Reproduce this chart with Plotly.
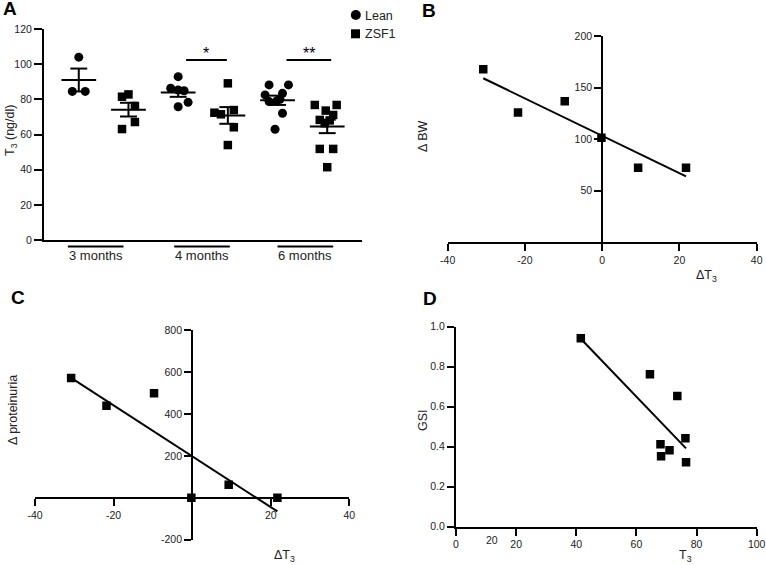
import numpy as np
import plotly.graph_objects as go

W, H = 766, 565

# ---- panel A: T3 by age group ----
lean_3mo = [104, 84.5, 84.5]
zsf1_3mo = [81.5, 82.8, 76.2, 67.1, 63.1]
lean_4mo = [92.9, 86.3, 85.3, 84.9, 75.8, 78.3]
zsf1_4mo = [89.1, 72.4, 71.5, 73.9, 64.1, 54.0]
lean_6mo = [88.2, 88.2, 82.5, 83.4, 78.7, 80.0, 79.0, 72.1, 63.0]
zsf1_6mo = [76.8, 76.8, 73.6, 71.1, 68.3, 66.4, 68.0, 51.8, 51.8, 41.4]
group_labels = ["3 months", "4 months", "6 months"]
sig_labels = ["*", "**"]
sig_level = 102.4

# ---- panel B / C: delta T3 vs delta BW / proteinuria ----
delta_t3 = [-30.8, -21.8, -9.7, -0.2, 9.3, 21.7]
delta_bw = [167.7, 125.8, 136.8, 101.3, 72.3, 72.3]
delta_prot = [571, 439, 498, 0, 62, 0]

# ---- panel D: T3 vs GSI ----
t3_d = [41.5, 64.5, 73.6, 76.3, 68.0, 71.0, 68.2, 76.5]
gsi_d = [0.942, 0.762, 0.653, 0.442, 0.412, 0.382, 0.352, 0.322]

# jitter (x offsets within a column) and column positions
jitter = [
    [0, -0.13, 0.13],
    [-0.13, 0, 0.13, 0.13, -0.13],
    [0, -0.15, 0, 0.12, 0, 0.2],
    [0, -0.27, -0.14, 0.12, 0.12, 0],
    [-0.17, 0.22, -0.25, 0.1, -0.17, 0.05, -0.02, 0.1, -0.05],
    [-0.25, 0.19, -0.03, 0.12, -0.15, -0.05, 0.05, -0.15, 0.12, 0],
]
group_label_x = [0.34, 2.48, 4.56]
sig_spans = [(2.16, 2.98), (4.18, 5.08)]

FONT = "Liberation Sans, Arial, sans-serif"
INK = "#222222"
TICK_SIZE = 10.5

fig = go.Figure()

series = [lean_3mo, zsf1_3mo, lean_4mo, zsf1_4mo, lean_6mo, zsf1_6mo]
for i, vals in enumerate(series):
    is_lean = i % 2 == 0
    xs = [i + o for o in jitter[i]]
    fig.add_trace(go.Scatter(
        x=xs, y=vals, mode="markers", xaxis="x", yaxis="y",
        marker=dict(symbol="circle" if is_lean else "square", size=9 if is_lean else 8.5, color="black"),
        name="Lean" if is_lean else "ZSF1", showlegend=False,
    ))
    m = np.mean(vals)
    sem = np.std(vals, ddof=1) / np.sqrt(len(vals))
    # mean bar, sem whisker, caps
    lx = [i - 0.35, i + 0.35, None, i, i, None, i - 0.17, i + 0.17, None, i - 0.17, i + 0.17]
    ly = [m, m, None, m - sem, m + sem, None, m + sem, m + sem, None, m - sem, m - sem]
    fig.add_trace(go.Scatter(x=lx, y=ly, mode="lines", xaxis="x", yaxis="y",
                             line=dict(color="black", width=2), showlegend=False, hoverinfo="skip"))


def px_x(p):
    return p / W


def px_y(p):
    return 1 - p / H


def label(text, x, y, size, ang=0, **kw):
    return dict(text=text, x=px_x(x), y=px_y(y), xref="paper", yref="paper",
                xanchor="center", yanchor="middle", showarrow=False, textangle=ang,
                font=dict(size=size, color=kw.pop("color", INK), family=FONT), **kw)


shapes = []
annotations = []
for gx, lab in zip(group_label_x, group_labels):
    shapes.append(dict(type="line", xref="x", yref="paper", x0=gx - 0.56, x1=gx + 0.56,
                       y0=px_y(246.5), y1=px_y(246.5), line=dict(color="black", width=2)))
    annotations.append(dict(text=lab, x=gx, xref="x", y=px_y(255.5), yref="paper",
                            xanchor="center", yanchor="middle", showarrow=False,
                            font=dict(size=13, color=INK, family=FONT)))
for (a, b), lab in zip(sig_spans, sig_labels):
    shapes.append(dict(type="line", xref="x", yref="y", x0=a, x1=b, y0=sig_level, y1=sig_level,
                       line=dict(color="black", width=2)))
    annotations.append(dict(text=lab, x=(a + b) / 2, xref="x", y=sig_level, yref="y",
                            xanchor="center", yanchor="bottom", yshift=-4, showarrow=False,
                            font=dict(size=16, color="black", family=FONT)))

# legend drawn by hand so the glyphs sit close to their labels
shapes.append(dict(type="circle", xref="paper", yref="paper", x0=px_x(350.8), x1=px_x(360.8),
                   y0=px_y(20), y1=px_y(10), fillcolor="black", line=dict(width=0)))
shapes.append(dict(type="rect", xref="paper", yref="paper", x0=px_x(351), x1=px_x(360),
                   y0=px_y(38.3), y1=px_y(29.3), fillcolor="black", line=dict(width=0)))
for txt, y in [("Lean", 15.5), ("ZSF1", 34)]:
    annotations.append(dict(text=txt, x=px_x(362.5), y=px_y(y), xref="paper", yref="paper",
                            xanchor="left", yanchor="middle", showarrow=False,
                            font=dict(size=12.5, color=INK, family=FONT)))


def fit_line(x, y):
    k, b = np.polyfit(x, y, 1)
    xx = np.array([min(x), max(x)])
    return xx, k * xx + b


# B
fig.add_trace(go.Scatter(x=delta_t3, y=delta_bw, mode="markers", xaxis="x2", yaxis="y2",
                         marker=dict(symbol="square", size=8.5, color="black"), showlegend=False))
fx, fy = fit_line(delta_t3, delta_bw)
fig.add_trace(go.Scatter(x=fx, y=fy, mode="lines", xaxis="x2", yaxis="y2",
                         line=dict(color="black", width=2), showlegend=False))
# C
fig.add_trace(go.Scatter(x=delta_t3, y=delta_prot, mode="markers", xaxis="x3", yaxis="y3",
                         marker=dict(symbol="square", size=8.5, color="black"), showlegend=False))
fx, fy = fit_line(delta_t3, delta_prot)
fig.add_trace(go.Scatter(x=fx, y=fy, mode="lines", xaxis="x3", yaxis="y3",
                         line=dict(color="black", width=2), showlegend=False))
# D
fig.add_trace(go.Scatter(x=t3_d, y=gsi_d, mode="markers", xaxis="x4", yaxis="y4",
                         marker=dict(symbol="square", size=8.5, color="black"), showlegend=False))
fx, fy = fit_line(t3_d, gsi_d)
fig.add_trace(go.Scatter(x=fx, y=fy, mode="lines", xaxis="x4", yaxis="y4",
                         line=dict(color="black", width=2), showlegend=False))


def ticks(vals, fmt="{:g}"):
    # hyphen-minus labels, as in the original figure
    return dict(tickvals=vals, ticktext=[fmt.format(v) for v in vals])


ax_common = dict(showline=True, linecolor="black", linewidth=2, ticks="outside", ticklen=7,
                 tickwidth=1.5, tickcolor="black", showgrid=False, zeroline=False, automargin=False,
                 tickfont=dict(size=TICK_SIZE, color=INK, family=FONT))

# panel letters and axis titles
for txt, x, y in [("A", 10, 9), ("B", 429, 10), ("C", 17.5, 297), ("D", 430, 298)]:
    annotations.append(label(f"<b>{txt}</b>", x, y, 19, color="black"))
for txt, x, y, ang in [("T<sub>3</sub> (ng/dl)", 11, 131, -90), ("Δ BW", 423, 137, -90),
                       ("ΔT<sub>3</sub>", 706, 276, 0), ("Δ proteinuria", 13, 410, -90),
                       ("ΔT<sub>3</sub>", 284, 556, 0), ("GSI", 423, 420, -90),
                       ("T<sub>3</sub>", 685, 556, 0)]:
    annotations.append(label(txt, x, y, 12.5, ang))
# stray duplicate tick label on D
annotations.append(dict(text="20", x=11.9, xref="x4", y=px_y(540), yref="paper", showarrow=False,
                        xanchor="center", yanchor="middle",
                        font=dict(size=TICK_SIZE, color=INK, family=FONT)))

fig.update_layout(
    width=W, height=H, margin=dict(l=0, r=0, t=0, b=0),
    paper_bgcolor="white", plot_bgcolor="white",
    font=dict(family=FONT, color=INK, size=11),
    showlegend=False,
    xaxis=dict(ax_common, domain=[px_x(44), px_x(362)], range=[-0.7, 5.7], anchor="y",
               ticks="", showticklabels=False),
    yaxis=dict(ax_common, domain=[px_y(240), px_y(29)], range=[0, 120], anchor="x", ticklen=8,
               **ticks([0, 20, 40, 60, 80, 100, 120])),
    xaxis2=dict(ax_common, domain=[px_x(447.7), px_x(756.7)], range=[-40, 40], anchor="y2",
                **ticks([-40, -20, 0, 20, 40])),
    yaxis2=dict(ax_common, domain=[px_y(242.3), px_y(36)], range=[0, 200], anchor="free",
                position=px_x((447.7 + 756.7) / 2), **ticks([50, 100, 150, 200])),
    xaxis3=dict(ax_common, domain=[px_x(35), px_x(349.3)], range=[-40, 40], anchor="free",
                position=px_y(498), **ticks([-40, -20, 20, 40])),
    yaxis3=dict(ax_common, domain=[px_y(539.7), px_y(330)], range=[-200, 800], anchor="free",
                position=px_x((35 + 349.3) / 2), **ticks([-200, 200, 400, 600, 800])),
    xaxis4=dict(ax_common, domain=[px_x(456), px_x(756.7)], range=[0, 100], anchor="y4",
                **ticks([0, 20, 40, 60, 80, 100])),
    yaxis4=dict(ax_common, domain=[px_y(526.7), px_y(326.7)], range=[0, 1], anchor="x4",
                **ticks([0, 0.2, 0.4, 0.6, 0.8, 1.0], "{:.1f}")),
    shapes=shapes,
    annotations=annotations,
)

fig.write_html("out.html", config={"displayModeBar": False},
               post_script="document.body.style.margin='0';")
